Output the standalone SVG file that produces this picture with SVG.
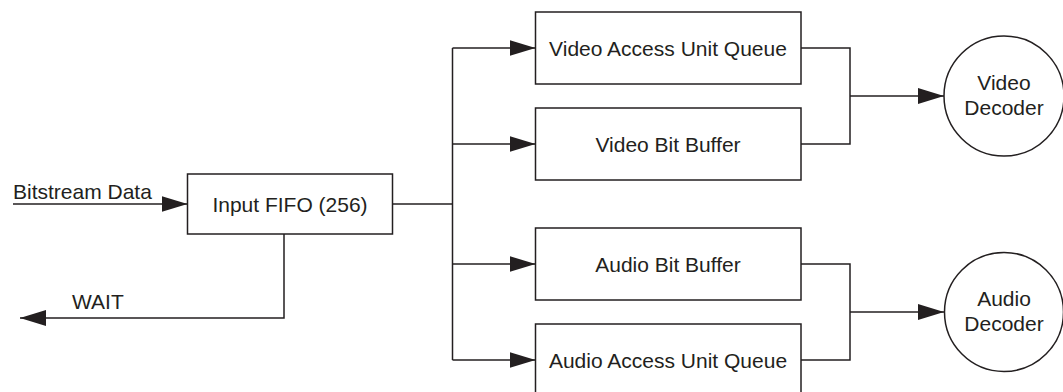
<svg xmlns="http://www.w3.org/2000/svg" width="1063" height="392" viewBox="0 0 1063 392">
  <style>
    .box { fill: #ffffff; stroke: #231f20; stroke-width: 1.5; }
    .wire { fill: none; stroke: #231f20; stroke-width: 1.5; }
    .lbl { font-family: "Liberation Sans", Arial, sans-serif; font-size: 21px; fill: #231f20; }
    .mid { text-anchor: middle; }
  </style>
  <defs>
    <marker id="arrow" viewBox="0 0 26 16" refX="26" refY="8" markerWidth="26" markerHeight="16" markerUnits="userSpaceOnUse" orient="auto">
      <path d="M0,0 L26,8 L0,16 Z" fill="#231f20"/>
    </marker>
  </defs>
  <rect width="1063" height="392" fill="#ffffff"/>

  <g id="connectors">
    <!-- input to FIFO -->
    <line class="wire" x1="13" y1="204" x2="187.5" y2="204" marker-end="url(#arrow)"/>
    <!-- WAIT back-pressure -->
    <polyline class="wire" points="284,234 284,318 20,318" marker-end="url(#arrow)"/>
    <!-- FIFO to distribution bus -->
    <line class="wire" x1="392" y1="204" x2="452.5" y2="204"/>
    <line class="wire" x1="452.5" y1="48" x2="452.5" y2="360"/>
    <line class="wire" x1="452.5" y1="48" x2="535.5" y2="48" marker-end="url(#arrow)"/>
    <line class="wire" x1="452.5" y1="144" x2="535.5" y2="144" marker-end="url(#arrow)"/>
    <line class="wire" x1="452.5" y1="264" x2="535.5" y2="264" marker-end="url(#arrow)"/>
    <line class="wire" x1="452.5" y1="360" x2="535.5" y2="360" marker-end="url(#arrow)"/>
    <!-- video buffers to decoder -->
    <polyline class="wire" points="801,48 850,48 850,144 801,144"/>
    <line class="wire" x1="850" y1="96" x2="944" y2="96" marker-end="url(#arrow)"/>
    <!-- audio buffers to decoder -->
    <polyline class="wire" points="801,264 850,264 850,360 801,360"/>
    <line class="wire" x1="850" y1="312" x2="944" y2="312" marker-end="url(#arrow)"/>
  </g>

  <g id="bitstream-label">
    <text class="lbl" x="13" y="199">Bitstream Data</text>
  </g>
  <g id="wait-label">
    <text class="lbl" x="72" y="309">WAIT</text>
  </g>

  <g id="input-fifo">
    <rect class="box" x="187.5" y="174" width="205" height="60"/>
    <text class="lbl mid" x="290" y="211.5">Input FIFO (256)</text>
  </g>

  <g id="video-au-queue">
    <rect class="box" x="535.5" y="12" width="265.5" height="72"/>
    <text class="lbl mid" x="668" y="55.5">Video Access Unit Queue</text>
  </g>
  <g id="video-bit-buffer">
    <rect class="box" x="535.5" y="108" width="265.5" height="72"/>
    <text class="lbl mid" x="668" y="151.5">Video Bit Buffer</text>
  </g>
  <g id="audio-bit-buffer">
    <rect class="box" x="535.5" y="228" width="265.5" height="72"/>
    <text class="lbl mid" x="668" y="271.5">Audio Bit Buffer</text>
  </g>
  <g id="audio-au-queue">
    <rect class="box" x="535.5" y="324" width="265.5" height="72"/>
    <text class="lbl mid" x="668" y="367.5">Audio Access Unit Queue</text>
  </g>

  <g id="video-decoder">
    <circle class="box" cx="1004" cy="96" r="60"/>
    <text class="lbl mid" x="1004" y="90">Video</text>
    <text class="lbl mid" x="1004" y="115">Decoder</text>
  </g>
  <g id="audio-decoder">
    <circle class="box" cx="1004" cy="312" r="59.5"/>
    <text class="lbl mid" x="1004" y="306">Audio</text>
    <text class="lbl mid" x="1004" y="331">Decoder</text>
  </g>
</svg>
